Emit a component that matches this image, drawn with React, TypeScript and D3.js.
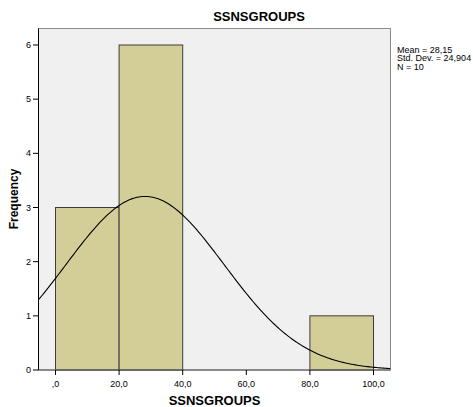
import React from "react";
import * as d3 from "d3";

// Histogram bins (lower edge, upper edge) and counts
const binStarts = [0, 20, 80];
const binEnds = [20, 40, 100];
const binCounts = [3, 6, 1];

const xTicks = [0, 20, 40, 60, 80, 100];
const xTickLabels = [",0", "20,0", "40,0", "60,0", "80,0", "100,0"];
const yTicks = [0, 1, 2, 3, 4, 5, 6];

const meanValue = 28.15;
const sdValue = 24.904;
const nValue = 10;
const binWidth = 20;
const statLines = ["Mean = 28,15", "Std. Dev. = 24,904", "N = 10"];

const W = 473;
const H = 407;
const frame = { left: 38.5, right: 390.5, top: 28.5, bottom: 370 };

export default function App() {
  const x = d3.scaleLinear().domain([0, 100]).range([55.5, 373.5]);
  const y = d3.scaleLinear().domain([0, 6]).range([370, 45]);

  const xMin = x.invert(frame.left);
  const xMax = x.invert(frame.right);
  const peak = (nValue * binWidth) / (sdValue * Math.sqrt(2 * Math.PI));
  const curvePts = d3.range(0, 201).map((i) => {
    const v = xMin + ((xMax - xMin) * i) / 200;
    const z = (v - meanValue) / sdValue;
    return [v, peak * Math.exp(-0.5 * z * z)] as [number, number];
  });
  const line = d3
    .line<[number, number]>()
    .x((d) => x(d[0]))
    .y((d) => y(d[1]))
    .curve(d3.curveLinear);

  const font = "Arial, 'Liberation Sans', sans-serif";

  return (
    <svg
      width={W}
      height={H}
      style={{ position: "absolute", left: 0, top: 0, background: "#fff" }}
      fontFamily={font}
    >
      <rect x={0} y={0} width={W} height={H} fill="#ffffff" />
      <text x={259} y={21} textAnchor="middle" fontSize={13} fontWeight="bold" fill="#000">
        SSNSGROUPS
      </text>

      <defs>
        <clipPath id="plotClip">
          <rect
            x={frame.left}
            y={frame.top}
            width={frame.right - frame.left}
            height={frame.bottom - frame.top}
          />
        </clipPath>
      </defs>

      <rect
        x={frame.left}
        y={frame.top}
        width={frame.right - frame.left}
        height={frame.bottom - frame.top}
        fill="#f0f0f0"
        stroke="#8a8a8a"
        strokeWidth={1}
      />

      {binCounts.map((c, i) => (
        <rect
          key={i}
          x={x(binStarts[i])}
          y={y(c)}
          width={x(binEnds[i]) - x(binStarts[i])}
          height={y(0) - y(c)}
          fill="#d3ce97"
          stroke="#3c3c3c"
          strokeWidth={1}
        />
      ))}

      <path
        d={line(curvePts) || ""}
        fill="none"
        stroke="#000"
        strokeWidth={1.1}
        clipPath="url(#plotClip)"
      />

      {/* axes */}
      <line x1={frame.left} x2={frame.left} y1={frame.top} y2={frame.bottom} stroke="#000" />
      <line x1={frame.left} x2={frame.right} y1={frame.bottom} y2={frame.bottom} stroke="#555" />

      {yTicks.map((t) => (
        <g key={t}>
          <line x1={33} x2={frame.left} y1={y(t)} y2={y(t)} stroke="#000" />
          <text x={31} y={y(t) + 3} textAnchor="end" fontSize={9} fill="#000">
            {t}
          </text>
        </g>
      ))}
      {xTicks.map((t, i) => (
        <g key={t}>
          <line x1={x(t)} x2={x(t)} y1={frame.bottom} y2={375} stroke="#000" />
          <text x={x(t)} y={387} textAnchor="middle" fontSize={9} fill="#000">
            {xTickLabels[i]}
          </text>
        </g>
      ))}

      <text x={214.5} y={405} textAnchor="middle" fontSize={13} fontWeight="bold" fill="#000">
        SSNSGROUPS
      </text>
      <text
        transform={`translate(18,199) rotate(-90)`}
        textAnchor="middle"
        fontSize={12}
        fontWeight="bold"
        fill="#000"
      >
        Frequency
      </text>

      {statLines.map((s, i) => (
        <text key={i} x={397} y={52.5 + i * 8.7} fontSize={9} fill="#000">
          {s}
        </text>
      ))}
    </svg>
  );
}
